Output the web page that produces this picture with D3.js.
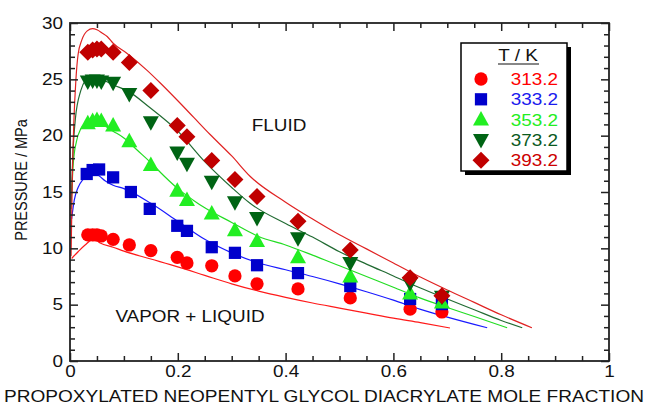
<!DOCTYPE html>
<html><head><meta charset="utf-8">
<script src="https://cdn.jsdelivr.net/npm/d3@7"></script>
<style>
body{margin:0;background:#fff}
svg{display:block}
text{font-family:"Liberation Sans",Arial,sans-serif}
</style>
</head><body>
<svg id="c" width="646" height="405"></svg>
<script>
// ---- data ----
const temps = ["313.2","333.2","353.2","373.2","393.2"];
const xTicks = [0,0.2,0.4,0.6,0.8,1];
const xTickLabels = ["0","0.2","0.4","0.6","0.8","1"];
const yTicks = [0,5,10,15,20,25,30];
const yTickLabels = ["0","5","10","15","20","25","30"];

// experimental points
const exp313X = [0.033,0.042,0.05,0.058,0.08,0.11,0.15,0.199,0.217,0.263,0.306,0.347,0.423,0.52,0.631,0.69];
const exp313P = [11.2,11.2,11.2,11.1,10.8,10.3,9.8,9.2,8.7,8.45,7.55,6.85,6.4,5.6,4.6,4.35];
const exp333X = [0.031,0.042,0.054,0.08,0.113,0.148,0.199,0.217,0.263,0.306,0.347,0.423,0.52,0.631,0.69];
const exp333P = [16.6,16.95,17.0,16.3,15.0,13.5,12.0,11.55,10.1,9.6,8.5,7.8,6.65,5.5,5.05];
const exp353X = [0.033,0.042,0.05,0.058,0.08,0.11,0.15,0.199,0.217,0.263,0.306,0.347,0.423,0.52,0.631,0.69];
const exp353P = [21.1,21.3,21.4,21.3,20.9,19.5,17.4,15.1,14.3,13.1,11.6,10.65,9.2,7.5,6.0,5.2];
const exp373X = [0.033,0.042,0.05,0.058,0.08,0.11,0.15,0.199,0.217,0.263,0.306,0.347,0.423,0.52,0.631,0.69];
const exp373P = [24.8,24.9,24.9,24.8,24.7,23.7,21.2,18.5,17.5,15.9,14.1,12.7,10.9,8.7,6.9,5.7];
const exp393X = [0.033,0.042,0.05,0.058,0.08,0.11,0.15,0.199,0.217,0.263,0.306,0.347,0.423,0.52,0.631,0.69];
const exp393P = [27.4,27.6,27.7,27.7,27.4,26.5,24.0,20.9,19.9,17.8,16.1,14.6,12.4,9.85,7.4,5.8];

// model curves
const mod313X = [0.003,0.015,0.028,0.04,0.05,0.056,0.08,0.1,0.15,0.2,0.25,0.3,0.35,0.4,0.45,0.5,0.55,0.6,0.65,0.705];
const mod313P = [9.1,9.7,10.3,10.7,10.65,10.47,10.1,9.75,9.05,8.35,7.6,6.85,6.2,5.65,5.15,4.7,4.25,3.8,3.4,2.93];
const mod333X = [0.003,0.008,0.015,0.024,0.035,0.045,0.055,0.065,0.08,0.1,0.15,0.2,0.25,0.3,0.35,0.4,0.45,0.5,0.55,0.6,0.649,0.7,0.774];
const mod333P = [12.6,14.3,15.4,16.1,16.5,16.7,16.4,16.0,15.6,15.3,14.0,12.4,10.8,9.6,8.7,8.1,7.5,6.85,6.15,5.4,4.6,3.9,2.95];
const mod353X = [0.003,0.006,0.012,0.02,0.03,0.04,0.05,0.06,0.08,0.1,0.125,0.15,0.175,0.2,0.228,0.25,0.3,0.35,0.4,0.45,0.5,0.55,0.6,0.649,0.7,0.75,0.811];
const mod353P = [14.8,17.5,19.5,20.6,21.1,21.3,21.2,21.0,20.4,19.8,18.7,17.6,16.4,15.3,14.3,13.6,12.3,11.05,10.3,9.4,8.45,7.5,6.55,5.6,4.75,3.95,2.95];
const mod373X = [0.002,0.005,0.01,0.02,0.03,0.04,0.05,0.06,0.08,0.106,0.148,0.2,0.25,0.3,0.334,0.4,0.45,0.5,0.55,0.6,0.649,0.7,0.75,0.8,0.839];
const mod373P = [13.5,18.0,21.5,24.0,25.0,25.3,25.2,25.0,24.5,24.0,22.5,20.4,17.7,15.4,14.0,12.2,11.0,9.7,8.6,7.55,6.5,5.5,4.55,3.6,2.95];
const mod393X = [0.002,0.004,0.007,0.011,0.015,0.022,0.032,0.042,0.05,0.06,0.069,0.08,0.106,0.143,0.167,0.2,0.23,0.26,0.3,0.334,0.4,0.45,0.5,0.55,0.6,0.65,0.7,0.75,0.8,0.857];
const mod393P = [9.3,15.5,21.0,25.0,27.2,28.5,29.3,29.5,29.4,29.1,28.8,28.2,27.3,25.8,24.7,23.1,21.6,20.1,18.2,16.4,14.1,12.6,11.2,9.95,8.7,7.45,6.3,5.2,4.1,2.95];

// ---- drawing ----
const svg = d3.select("#c");
const L=70, R=609, T=23, B=361;
const x = d3.scaleLinear().domain([0,1]).range([L,R]);
const y = d3.scaleLinear().domain([0,30]).range([B,T]);

const series = [
  {name:temps[0], ex:exp313X, ep:exp313P, mx:mod313X, mp:mod313P, mk:"#ff0000", lc:"#ff1a1a", tc:"#ff0000", sym:"circle"},
  {name:temps[1], ex:exp333X, ep:exp333P, mx:mod333X, mp:mod333P, mk:"#0000cc", lc:"#1a1aff", tc:"#1a1aee", sym:"square"},
  {name:temps[2], ex:exp353X, ep:exp353P, mx:mod353X, mp:mod353P, mk:"#22ee22", lc:"#22dd22", tc:"#22ee22", sym:"up"},
  {name:temps[3], ex:exp373X, ep:exp373P, mx:mod373X, mp:mod373P, mk:"#006414", lc:"#226b33", tc:"#0a5a1e", sym:"down"},
  {name:temps[4], ex:exp393X, ep:exp393P, mx:mod393X, mp:mod393P, mk:"#c00000", lc:"#e02222", tc:"#cc0000", sym:"diamond"}
];

function symPath(s){
  if(s==="circle") return d3.symbol(d3.symbolCircle, 138)();
  if(s==="square") return d3.symbol(d3.symbolSquare, 150)();
  if(s==="up") return "M0,-8.5L8,6L-8,6Z";
  if(s==="down") return "M0,8.5L8,-6L-8,-6Z";
  if(s==="diamond") return "M0,-8.5L8.5,0L0,8.5L-8.5,0Z";
}

// clip
svg.append("clipPath").attr("id","pc").append("rect").attr("x",L).attr("y",T).attr("width",R-L).attr("height",B-T);

// model lines
const line = d3.line().x(d=>x(d[0])).y(d=>y(d[1])).curve(d3.curveMonotoneX);
const gl = svg.append("g").attr("clip-path","url(#pc)");
series.forEach(s=>{
  gl.append("path").attr("d", line(s.mx.map((v,i)=>[v,s.mp[i]])))
    .attr("fill","none").attr("stroke",s.lc).attr("stroke-width",1.2);
});

// points
const gp = svg.append("g");
series.forEach(s=>{
  gp.selectAll(null).data(s.ex.map((v,i)=>[v,s.ep[i]])).enter().append("path")
    .attr("d",symPath(s.sym)).attr("fill",s.mk)
    .attr("transform",d=>`translate(${x(d[0])},${y(d[1])})`);
});

// axes
const axStyle = g=>{ g.select(".domain").remove(); g.selectAll("line").attr("stroke","#222").attr("stroke-width",1.5);
  g.selectAll("text").attr("font-size",16).attr("fill","#111").attr("font-family","Liberation Sans, Arial, sans-serif").attr("class","stretch"); };
const minorX = d3.range(0,1.0001,0.05).filter(v=>Math.abs(v*5-Math.round(v*5))>1e-6);
const minorY = d3.range(0,30.001,1).filter(v=>v%5!==0);

svg.append("g").attr("transform",`translate(0,${B})`)
  .call(d3.axisBottom(x).tickValues(xTicks).tickFormat((d,i)=>xTickLabels[i]).tickSize(-8).tickPadding(5)).call(axStyle);
svg.append("g").attr("transform",`translate(0,${B})`)
  .call(d3.axisBottom(x).tickValues(minorX).tickFormat("").tickSize(-5)).call(axStyle);
svg.append("g").attr("transform",`translate(0,${T})`)
  .call(d3.axisTop(x).tickValues(xTicks).tickFormat("").tickSize(-8)).call(axStyle);
svg.append("g").attr("transform",`translate(0,${T})`)
  .call(d3.axisTop(x).tickValues(minorX).tickFormat("").tickSize(-5)).call(axStyle);
svg.append("g").attr("transform",`translate(${L},0)`)
  .call(d3.axisLeft(y).tickValues(yTicks).tickFormat((d,i)=>yTickLabels[i]).tickSize(-8).tickPadding(7)).call(axStyle);
svg.append("g").attr("transform",`translate(${L},0)`)
  .call(d3.axisLeft(y).tickValues(minorY).tickFormat("").tickSize(-5)).call(axStyle);
svg.append("g").attr("transform",`translate(${R},0)`)
  .call(d3.axisRight(y).tickValues(yTicks).tickFormat("").tickSize(-8)).call(axStyle);
svg.append("g").attr("transform",`translate(${R},0)`)
  .call(d3.axisRight(y).tickValues(minorY).tickFormat("").tickSize(-5)).call(axStyle);

svg.append("rect").attr("x",L).attr("y",T).attr("width",R-L).attr("height",B-T)
  .attr("fill","none").attr("stroke","#222").attr("stroke-width",1.8);

// region labels
svg.append("text").attr("class","stretch").attr("x",279).attr("y",131).attr("text-anchor","middle")
  .attr("font-size",16).attr("fill","#111").text("FLUID");
svg.append("text").attr("class","stretch").attr("x",190).attr("y",322).attr("text-anchor","middle")
  .attr("font-size",16).attr("fill","#111").text("VAPOR + LIQUID");

// axis titles
svg.append("text").attr("id","xt").attr("x",324).attr("y",402).attr("text-anchor","middle")
  .attr("font-size",16).attr("fill","#111").text("PROPOXYLATED NEOPENTYL GLYCOL DIACRYLATE MOLE FRACTION");
svg.append("text").attr("id","yt").attr("transform","translate(27,180) scale(1.2,1) rotate(-90)").attr("text-anchor","middle")
  .attr("font-size",14.5).attr("fill","#111").text("PRESSURE / MPa");

// legend
const lg = svg.append("g");
lg.append("rect").attr("x",465).attr("y",47).attr("width",106).attr("height",128).attr("fill","#000");
lg.append("rect").attr("x",461).attr("y",43).attr("width",106).attr("height",128).attr("fill","#fff").attr("stroke","#000").attr("stroke-width",1.5);
lg.append("text").attr("class","stretch").attr("x",518).attr("y",61).attr("text-anchor","middle").attr("font-size",16).attr("fill","#111").text("T / K");
lg.append("line").attr("x1",498).attr("x2",539).attr("y1",64).attr("y2",64).attr("stroke","#111").attr("stroke-width",1.2);
series.forEach((s,i)=>{
  const yy = 79 + i*20.3;
  lg.append("path").attr("d",symPath(s.sym)).attr("fill",s.mk).attr("transform",`translate(481,${yy})`);
  lg.append("text").attr("class","stretch").attr("x",558).attr("y",yy+6).attr("text-anchor","end")
    .attr("font-size",16).attr("fill",s.tc).text(s.name);
});

// horizontal stretch of texts to match reference glyph proportions
svg.selectAll("text.stretch").each(function(){
  const w = this.getComputedTextLength();
  if(w>0){ d3.select(this).attr("textLength", w*1.18).attr("lengthAdjust","spacingAndGlyphs"); }
});
d3.select("#xt").attr("textLength",640).attr("lengthAdjust","spacingAndGlyphs");
</script>
</body></html>
